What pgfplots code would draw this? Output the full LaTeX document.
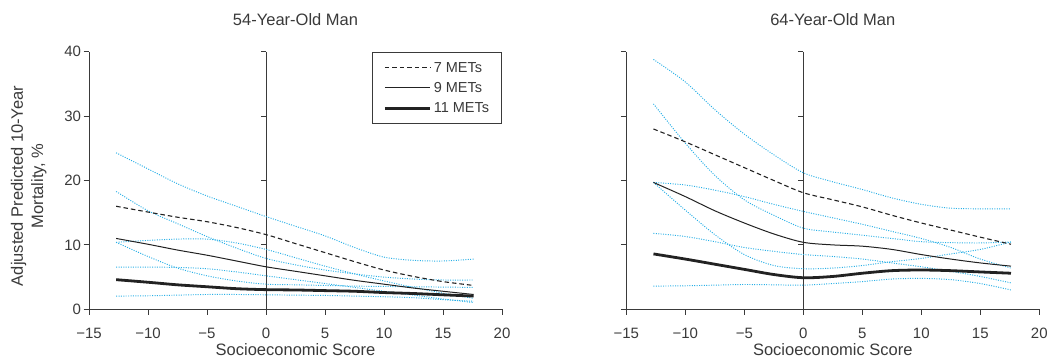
\documentclass[border=0pt]{standalone}
\usepackage{fontspec}
\setmainfont{Liberation Sans}
\usepackage{pgfplots}
\pgfplotsset{compat=1.18}
\definecolor{ink}{HTML}{3A3A3A}
\definecolor{ciblue}{RGB}{40,175,230}
\definecolor{lineblack}{HTML}{222222}

\pgfplotsset{
  myaxis/.style={
    scale only axis, width=413pt, height=257.6pt,
    xmin=-15, xmax=20, ymin=0, ymax=40,
    axis x line=bottom, axis y line=left,
    axis line style={-, ink, line width=0.9pt},
    tick align=outside, major tick length=5.4pt,
    tick style={ink, line width=0.9pt},
    xtick={-15,-10,...,20},
    xticklabels={−15,−10,−5,0,5,10,15,20},
    ytick={0,10,...,40},
    yticklabels={0,10,20,30,40},
    tick label style={font=\fontsize{15}{18}\selectfont, text=ink},
    xticklabel style={yshift=-9.5pt},
    yticklabel style={xshift=1pt},
    title style={at={(axis description cs:0.5,1)}, anchor=base, yshift=20.2pt, font=\fontsize{16.5}{20}\selectfont, text=ink},
    xlabel style={at={(axis description cs:0.5,0)}, anchor=base, yshift=-46.5pt, font=\fontsize{16.5}{20}\selectfont, text=ink},
    xlabel={Socioeconomic Score},
  },
  ci/.style={ciblue, line width=0.95pt, dash pattern=on 1pt off 1.4pt, smooth, forget plot},
  m7/.style={lineblack, line width=1.1pt, dash pattern=on 4.5pt off 3pt, smooth},
  m9/.style={lineblack, line width=1pt, smooth},
  m11/.style={lineblack, line width=2.8pt, smooth},
}

\begin{document}
\begin{tikzpicture}
\path[use as bounding box] (0,0) rectangle (1049pt,358pt);

% ---------------- Left panel ----------------
\begin{axis}[myaxis, at={(89pt,48.7pt)}, anchor=south west,
  title={54-Year-Old Man},
  ylabel={Adjusted Predicted 10-Year\\Mortality, \%},
  ylabel style={at={(axis description cs:-0.1459,0.479)}, anchor=center, align=center, font=\fontsize{16.5}{20.3}\selectfont, text=ink},
  legend style={at={(1,1)}, anchor=north east, draw=ink, line width=0.8pt, fill=white,
    font=\fontsize{14.5}{17}\selectfont, text=ink, inner xsep=10.5pt, inner ysep=8pt, row sep=4.6pt},
  legend cell align=left,
  legend image code/.code={\draw[#1] (0pt,0pt) -- (45.6pt,0pt);},
]
\draw[ink, line width=0.9pt] (axis cs:0,0) -- (axis cs:0,40);
\draw[ink, line width=0.9pt] (axis cs:0,10) -- ++(-5.4pt,0pt);
\draw[ink, line width=0.9pt] (axis cs:0,20) -- ++(-5.4pt,0pt);
\draw[ink, line width=0.9pt] (axis cs:0,30) -- ++(-5.4pt,0pt);
\draw[ink, line width=0.9pt] (axis cs:0,40) -- ++(-5.4pt,0pt);

% 7 METs CI
\addplot[ci] coordinates {(-12.7,24.3) (-10,21.8) (-7.5,19.5) (-5,17.6) (-2.5,16.0) (0,14.4) (2.5,12.9) (5,11.4) (7.5,9.6) (10,8.1) (12.5,7.6) (15,7.5) (17.6,7.8)};
\addplot[ci] coordinates {(-12.7,10.4) (-10,10.7) (-7.5,10.9) (-5,10.9) (-2.5,10.3) (0,9.3) (2.5,8.0) (5,6.7) (7.5,5.5) (10,4.4) (12.5,3.4) (15,2.5) (17.6,1.7)};
% 9 METs CI
\addplot[ci] coordinates {(-12.7,18.3) (-10,15.3) (-7.5,13.3) (-5,11.3) (-2.5,9.5) (0,7.9) (2.5,6.9) (5,6.1) (7.5,5.5) (10,5.0) (12.5,4.7) (15,4.55) (17.6,4.55)};
\addplot[ci] coordinates {(-12.7,6.55) (-10,6.55) (-7.5,6.5) (-5,6.3) (-2.5,5.8) (0,5.2) (2.5,4.6) (5,4.0) (7.5,3.4) (10,2.8) (12.5,2.2) (15,1.6) (17.6,1.05)};
% 11 METs CI
\addplot[ci] coordinates {(-12.7,10.4) (-10,8.2) (-7.5,6.4) (-5,5.2) (-2.5,4.4) (0,3.9) (2.5,3.8) (5,3.7) (7.5,3.6) (10,3.55) (12.5,3.5) (15,3.45) (17.6,3.4)};
\addplot[ci] coordinates {(-12.7,2.05) (-10,2.1) (-7.5,2.2) (-5,2.3) (-2.5,2.3) (0,2.25) (2.5,2.2) (5,2.15) (7.5,2.05) (10,1.95) (12.5,1.8) (15,1.5) (17.6,1.25)};

\addplot[m7] coordinates {(-12.7,16.0) (-10,15.1) (-7.5,14.3) (-5,13.6) (-2.5,12.7) (0,11.6) (2.5,10.2) (5,8.8) (7.5,7.4) (10,6.1) (12.5,5.1) (15,4.3) (17.6,3.7)};
\addlegendentry{7 METs}
\addplot[m9] coordinates {(-12.7,11.0) (-10,10.1) (-7.5,9.2) (-5,8.4) (-2.5,7.5) (0,6.6) (2.5,5.9) (5,5.2) (7.5,4.5) (10,3.9) (12.5,3.3) (15,2.8) (17.6,2.3)};
\addlegendentry{9 METs}
\addplot[m11] coordinates {(-12.7,4.6) (-10,4.2) (-7.5,3.8) (-5,3.5) (-2.5,3.2) (0,3.05) (2.5,3.0) (5,2.9) (7.5,2.8) (10,2.6) (12.5,2.45) (15,2.25) (17.6,2.05)};
\addlegendentry{11 METs}
\end{axis}

% ---------------- Right panel ----------------
\begin{axis}[myaxis, at={(626.3pt,48.7pt)}, anchor=south west,
  title={64-Year-Old Man},
  yticklabels={},
]
\draw[ink, line width=0.9pt] (axis cs:0,0) -- (axis cs:0,40);
\draw[ink, line width=0.9pt] (axis cs:0,10) -- ++(-5.4pt,0pt);
\draw[ink, line width=0.9pt] (axis cs:0,20) -- ++(-5.4pt,0pt);
\draw[ink, line width=0.9pt] (axis cs:0,30) -- ++(-5.4pt,0pt);
\draw[ink, line width=0.9pt] (axis cs:0,40) -- ++(-5.4pt,0pt);

% 7 METs CI
\addplot[ci] coordinates {(-12.7,38.8) (-10,35.3) (-7.5,31.0) (-5,27.2) (-2.5,24.0) (0,21.2) (2.5,19.8) (5,18.6) (7.5,17.3) (10,16.3) (12.5,15.7) (15,15.6) (17.6,15.6)};
\addplot[ci] coordinates {(-12.7,19.7) (-10,19.3) (-7.5,18.5) (-5,17.5) (-2.5,16.3) (0,15.2) (2.5,14.2) (5,13.2) (7.5,12.1) (10,11.0) (12.5,9.6) (15,7.8) (17.6,6.4)};
% 9 METs CI
\addplot[ci] coordinates {(-12.7,31.9) (-10,25.8) (-7.5,20.8) (-5,17.0) (-2.5,14.6) (0,12.6) (2.5,12.0) (5,11.5) (7.5,11.0) (10,10.5) (12.5,10.35) (15,10.3) (17.6,10.45)};
\addplot[ci] coordinates {(-12.7,11.8) (-10,11.3) (-7.5,10.5) (-5,9.6) (-2.5,9.0) (0,8.5) (2.5,8.2) (5,7.8) (7.5,7.2) (10,6.6) (12.5,5.9) (15,5.1) (17.6,4.1)};
% 11 METs CI
\addplot[ci] coordinates {(-12.7,19.7) (-10,15.4) (-7.5,11.6) (-5,8.5) (-2.5,6.8) (0,6.3) (2.5,6.4) (5,6.8) (7.5,7.4) (10,7.9) (12.5,8.6) (15,9.3) (17.6,10.45)};
\addplot[ci] coordinates {(-12.7,3.6) (-10,3.65) (-7.5,3.75) (-5,3.85) (-2.5,3.8) (0,3.75) (2.5,4.0) (5,4.3) (7.5,4.7) (10,4.8) (12.5,4.6) (15,4.0) (17.6,3.0)};

\addplot[m7] coordinates {(-12.7,28.0) (-10,26.0) (-7.5,24.0) (-5,22.0) (-2.5,20.0) (0,18.1) (2.5,17.0) (5,15.9) (7.5,14.6) (10,13.4) (12.5,12.3) (15,11.2) (17.6,10.1)};
\addplot[m9] coordinates {(-12.7,19.7) (-10,17.5) (-7.5,15.3) (-5,13.4) (-2.5,11.7) (0,10.4) (2.5,10.0) (5,9.8) (7.5,9.3) (10,8.5) (12.5,7.8) (15,7.2) (17.6,6.7)};
\addplot[m11] coordinates {(-12.7,8.6) (-10,7.8) (-7.5,7.0) (-5,6.2) (-2.5,5.4) (0,4.9) (2.5,5.1) (5,5.6) (7.5,6.0) (10,6.1) (12.5,6.0) (15,5.8) (17.6,5.6)};
\end{axis}
\end{tikzpicture}
\end{document}
